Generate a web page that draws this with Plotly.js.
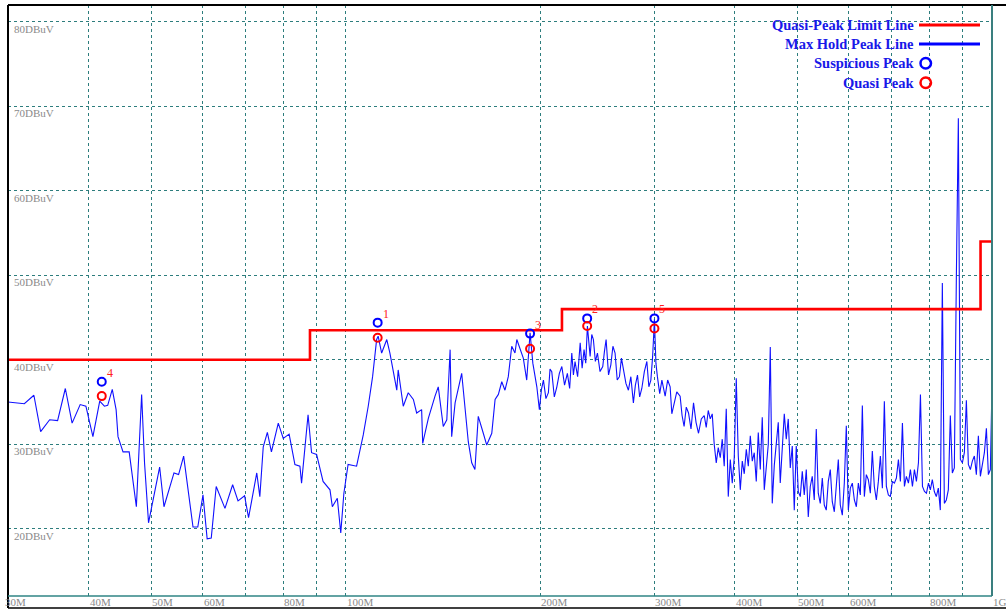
<!DOCTYPE html>
<html>
<head>
<meta charset="utf-8">
<script src="https://cdn.plot.ly/plotly-3.0.1.min.js"></script>
<style>html,body{margin:0;padding:0;background:#fff;}#chart{width:1006px;height:613px;}</style>
</head>
<body>
<div id="chart"></div>
<script>
// ---- data (MHz, dBuV) ----
const freqMHz = [30.0,30.7,31.8,32.9,33.7,34.8,35.8,36.8,37.7,38.8,39.6,40.6,41.6,42.3,42.8,43.5,44.1,44.4,45.2,46.2,47.4,48.3,48.8,49.5,51.5,52.3,54.2,55.1,56.1,58.0,59.0,60.1,61.0,61.9,63.0,65.0,66.8,68.1,69.7,70.7,72.8,73.6,74.5,75.6,76.7,78.6,80.0,81.7,83.4,84.9,85.4,87.4,88.5,90.1,92.2,94.5,95.3,97.0,98.2,99.3,100.8,103.9,106.4,108.3,110.0,111.6,112.2,113.6,115.7,117.0,119.9,120.5,122.7,124.9,127.2,128.7,131.0,131.5,134.2,137.4,139.0,141.5,143.3,145.0,145.8,147.6,151.1,154.7,156.6,158.4,160.3,163.2,165.2,168.2,170.2,172.2,174.3,176.3,178.4,180.6,182.7,183.9,186.0,188.2,190.5,192.8,194.7,197.5,
199.3,200.8,202.2,204.0,205.8,207.0,208.3,210.2,212.1,214.0,
215.9,218.0,220.2,222.0,223.7,225.0,226.3,228.4,230.5,232.1,
233.7,235.1,236.5,237.6,238.8,240.2,241.6,243.3,245.1,247.4,
249.8,251.3,252.8,255.0,257.1,259.0,261.0,263.0,265.1,267.0,
268.9,271.3,273.7,276.1,278.6,280.6,282.7,284.9,287.1,289.7,
292.3,294.4,296.5,298.4,300.3,301.9,303.5,306.0,308.4,310.2,
312.0,314.8,317.6,319.5,321.4,325.2,329.1,331.4,333.8,336.4,
339.1,342.1,345.2,348.3,351.4,354.9,
358.6,361.2,363.8,366.4,369.0,371.6,374.3,377.0,379.7,382.4,
385.1,387.9,390.7,393.5,396.3,399.1,402.0,404.9,407.8,410.7,
413.6,416.6,419.6,422.6,425.6,428.6,431.7,434.8,437.9,441.0,
444.2,447.4,450.6,453.8,457.0,460.3,463.6,466.9,470.2,473.6,
477.0,480.4,483.8,487.3,490.8,494.3,497.8,501.4,505.0,508.6,
512.2,515.9,519.6,523.3,527.0,530.8,534.6,538.4,542.3,546.2,
550.1,554.0,558.0,562.0,566.0,570.1,574.2,578.3,582.4,586.6,
590.8,595.0,599.3,603.6,607.9,612.3,616.7,621.1,625.5,630.0,
634.5,639.0,643.6,648.2,652.8,657.5,662.2,667.0,671.8,676.6,
681.4,686.3,691.2,696.2,701.2,706.2,711.3,716.4,721.5,726.7,
731.9,737.1,742.4,747.7,753.1,758.5,763.9,769.4,774.9,780.5,
786.1,791.7,797.4,802.7,808.4,814.2,820.0,825.9,831.8,837.8,
843.8,849.8,855.9,862.0,868.2,874.4,880.7,887.0,893.4,899.8,
906.2,912.7,919.2,925.8,932.4,939.1,945.8,952.6,959.4,966.3,
973.2,980.2,987.2,994.2,1000];
const maxHoldPeak = [35.0,34.9,34.8,35.8,31.5,32.9,32.8,36.6,32.5,34.7,34.5,30.9,35.1,34.5,34.6,36.5,34.1,30.9,29.1,29.1,22.6,35.9,27.8,20.7,27.3,22.6,26.6,26.4,28.6,20.2,20.2,24.0,18.8,18.9,25.0,22.4,25.2,23.3,23.9,21.3,26.6,23.8,29.7,31.4,29.1,32.5,30.7,31.2,27.6,27.4,25.4,33.5,29.0,28.8,25.6,24.6,22.6,23.6,19.5,24.2,27.6,27.4,31.1,34.5,38.0,42.4,42.8,40.8,42.4,40.8,36.4,38.8,34.5,36.1,35.3,33.7,34.1,30.1,33.1,35.7,36.8,32.1,32.9,41.2,30.9,34.9,38.4,30.3,27.8,27.0,33.3,31.3,29.9,31.3,35.3,35.9,37.4,36.4,38.0,41.6,40.8,42.4,41.2,40.2,37.6,43.2,39.6,36.8,
34.1,36.5,37.6,35.4,36.1,38.9,38.6,35.6,36.8,38.4,
39.2,37.0,38.4,36.6,40.8,38.2,39.8,38.0,42.0,39.0,
41.2,39.6,44.0,41.8,40.4,43.0,42.4,39.8,40.8,38.6,
39.2,41.0,42.4,38.2,39.4,41.6,40.8,37.6,38.0,40.2,
38.8,37.2,36.4,38.0,34.9,37.0,38.2,35.6,36.6,38.6,
39.8,36.8,37.6,40.4,44.8,39.6,38.0,36.0,37.6,36.4,
35.7,37.6,36.8,33.6,34.5,36.2,35.7,33.4,32.1,34.4,
33.7,31.8,34.9,32.6,31.3,33.0,
33.4,32.0,34.0,33.0,33.6,30.0,27.8,29.6,28.4,30.6,
27.4,34.2,23.8,28.2,25.4,28.4,37.8,28.6,24.6,28.0,
26.5,29.4,27.4,31.0,28.0,29.0,25.6,31.4,27.0,33.2,
24.6,27.4,30.0,41.5,23.0,27.5,29.8,32.6,25.4,29.0,
33.6,30.6,33.0,27.2,29.8,22.2,29.8,24.4,23.8,26.8,
24.0,27.0,21.4,25.0,26.2,23.4,31.8,24.2,23.0,26.0,
22.8,22.2,25.6,27.0,23.2,22.0,25.2,28.2,22.8,21.6,
25.4,32.2,22.2,24.8,25.4,23.4,22.6,25.4,24.0,34.6,
23.8,26.4,25.8,24.2,29.2,25.0,23.4,25.6,28.6,24.8,
35.1,25.0,24.0,23.8,25.6,25.4,26.0,28.2,25.6,32.5,
25.0,26.2,25.4,27.0,25.0,27.0,25.6,27.8,35.9,25.0,
24.4,24.2,25.4,24.6,25.8,24.4,23.8,24.8,22.2,49.1,
23.0,23.4,24.6,33.4,26.6,27.2,49.7,68.6,28.2,27.8,
29.0,35.2,27.6,27.0,28.0,28.6,26.4,31.0,26.2,27.4,
29.0,31.9,26.4,27.0,37.0];

const limitFreq = [30, 88, 216, 960, 1000];
const limitLevel = [40, 43.5, 46, 54, 54];

const peakIds = ['4','1','3','2','5'];
const peakFreq = [41.9, 112.0, 192.8, 236.3, 300.3];
const suspiciousLevel = [37.4, 44.4, 43.1, 44.9, 44.9];
const quasiLevel = [35.7, 42.6, 41.3, 44.0, 43.7];

const yTicks = [20, 30, 40, 50, 60, 70, 80];
const yTickLabels = ['20DBuV','30DBuV','40DBuV','50DBuV','60DBuV','70DBuV','80DBuV'];
const xGrid = [40,50,60,70,80,90,100,200,300,400,500,600,700,800,900];
const xLabelFreq = [30,40,50,60,80,100,200,300,400,500,600,800,1000];
const xLabels = ['30M','40M','50M','60M','80M','100M','200M','300M','400M','500M','600M','800M','1G'];

const legendNames = ['Quasi-Peak Limit Line','Max Hold Peak Line','Suspicious Peak','Quasi Peak'];

// ---- layout helpers ----
const W = 1006, H = 613, mL = 8, mR = 14, mT = 5, mB = 17;
const pw = W - mL - mR, ph = H - mT - mB;
const px2x = p => (p - mL) / pw;
const py2y = p => (H - mB - p) / ph;

const GRID = '#2d7d7d';
const serif = 'Liberation Serif, Times New Roman, serif';

const traces = [
  {x: freqMHz, y: maxHoldPeak, type: 'scatter', mode: 'lines',
   line: {color: '#1010ff', width: 1.1}, hoverinfo: 'x+y', showlegend: false},
  {x: limitFreq, y: limitLevel, type: 'scatter', mode: 'lines',
   line: {color: '#ff0000', width: 2.6, shape: 'hv'}, showlegend: false},
  {x: peakFreq, y: suspiciousLevel, type: 'scatter', mode: 'markers',
   marker: {symbol: 'circle-open', size: 8, color: '#0000ff', line: {width: 2, color: '#0000ff'}}, showlegend: false},
  {x: peakFreq, y: quasiLevel, type: 'scatter', mode: 'markers',
   marker: {symbol: 'circle-open', size: 8, color: '#ff0000', line: {width: 2, color: '#ff0000'}}, showlegend: false}
];

const annotations = [];
yTicks.forEach((v, i) => annotations.push({
  xref: 'paper', yref: 'y', x: px2x(12), y: v, xanchor: 'left', yanchor: 'top', yshift: 1,
  text: yTickLabels[i], showarrow: false, font: {family: serif, size: 11, color: '#8a8a8a'}
}));
xLabelFreq.forEach((f, i) => annotations.push({
  xref: 'x', yref: 'paper', x: Math.log10(f), y: py2y(602), xanchor: 'left', yanchor: 'middle',
  xshift: i === 0 ? -5 : -1, text: xLabels[i], showarrow: false, font: {family: serif, size: 11, color: '#8a8a8a'}
}));
peakIds.forEach((id, i) => annotations.push({
  xref: 'x', yref: 'y', x: Math.log10(peakFreq[i]), y: suspiciousLevel[i], xshift: 8, yshift: 9,
  text: id, showarrow: false, font: {family: serif, size: 12, color: '#ff2020'}
}));
const legRows = [25, 44, 63, 83];
legendNames.forEach((n, i) => annotations.push({
  xref: 'paper', yref: 'paper', x: px2x(916), y: py2y(legRows[i]), xanchor: 'right', yanchor: 'middle',
  text: '<b>' + n + '</b>', showarrow: false, font: {family: serif, size: 14.5, color: '#1818e8'}
}));

const shapes = [
  // legend samples
  {type: 'line', xref: 'paper', yref: 'paper', x0: px2x(919), x1: px2x(980), y0: py2y(25), y1: py2y(25), line: {color: '#ff0000', width: 3}},
  {type: 'line', xref: 'paper', yref: 'paper', x0: px2x(919), x1: px2x(980), y0: py2y(44), y1: py2y(44), line: {color: '#0000ff', width: 3}},
  {type: 'circle', xref: 'paper', yref: 'paper', x0: px2x(920.5), x1: px2x(931), y0: py2y(58), y1: py2y(68.5), line: {color: '#0000ff', width: 2.5}},
  {type: 'circle', xref: 'paper', yref: 'paper', x0: px2x(920.5), x1: px2x(931), y0: py2y(77.5), y1: py2y(88), line: {color: '#ff0000', width: 2.5}},
  // frame
  {type: 'line', xref: 'paper', yref: 'paper', x0: 0, x1: px2x(1006), y0: py2y(5), y1: py2y(5), line: {color: '#000', width: 2}},
  {type: 'line', xref: 'paper', yref: 'paper', x0: 0, x1: 0, y0: py2y(5), y1: py2y(608), line: {color: '#000', width: 2}},
  {type: 'line', xref: 'paper', yref: 'paper', x0: 0, x1: px2x(1006), y0: py2y(608), y1: py2y(608), line: {color: '#000', width: 1.5}},
  {type: 'line', xref: 'paper', yref: 'paper', x0: 0, x1: 1, y0: 0, y1: 0, line: {color: '#2f8585', width: 1.5}},
  {type: 'line', xref: 'paper', yref: 'paper', x0: 1, x1: 1, y0: 0, y1: 1, line: {color: '#3a7f7f', width: 2}}
];

const layout = {
  width: W, height: H,
  margin: {l: mL, r: mR, t: mT, b: mB, pad: 0},
  paper_bgcolor: '#ffffff', plot_bgcolor: '#ffffff',
  showlegend: false,
  xaxis: {type: 'log', range: [Math.log10(30), Math.log10(1000)], tickvals: xGrid, showticklabels: false,
          ticks: '', showgrid: true, gridcolor: GRID, gridwidth: 1, griddash: '3px,3px', zeroline: false, showline: false},
  yaxis: {range: [12.03, 82.01], tickvals: yTicks, showticklabels: false, ticks: '',
          showgrid: true, gridcolor: GRID, gridwidth: 1, griddash: '3px,3px', zeroline: false, showline: false},
  annotations: annotations,
  shapes: shapes
};

Plotly.newPlot('chart', traces, layout, {displayModeBar: false, staticPlot: true});
</script>
</body>
</html>
